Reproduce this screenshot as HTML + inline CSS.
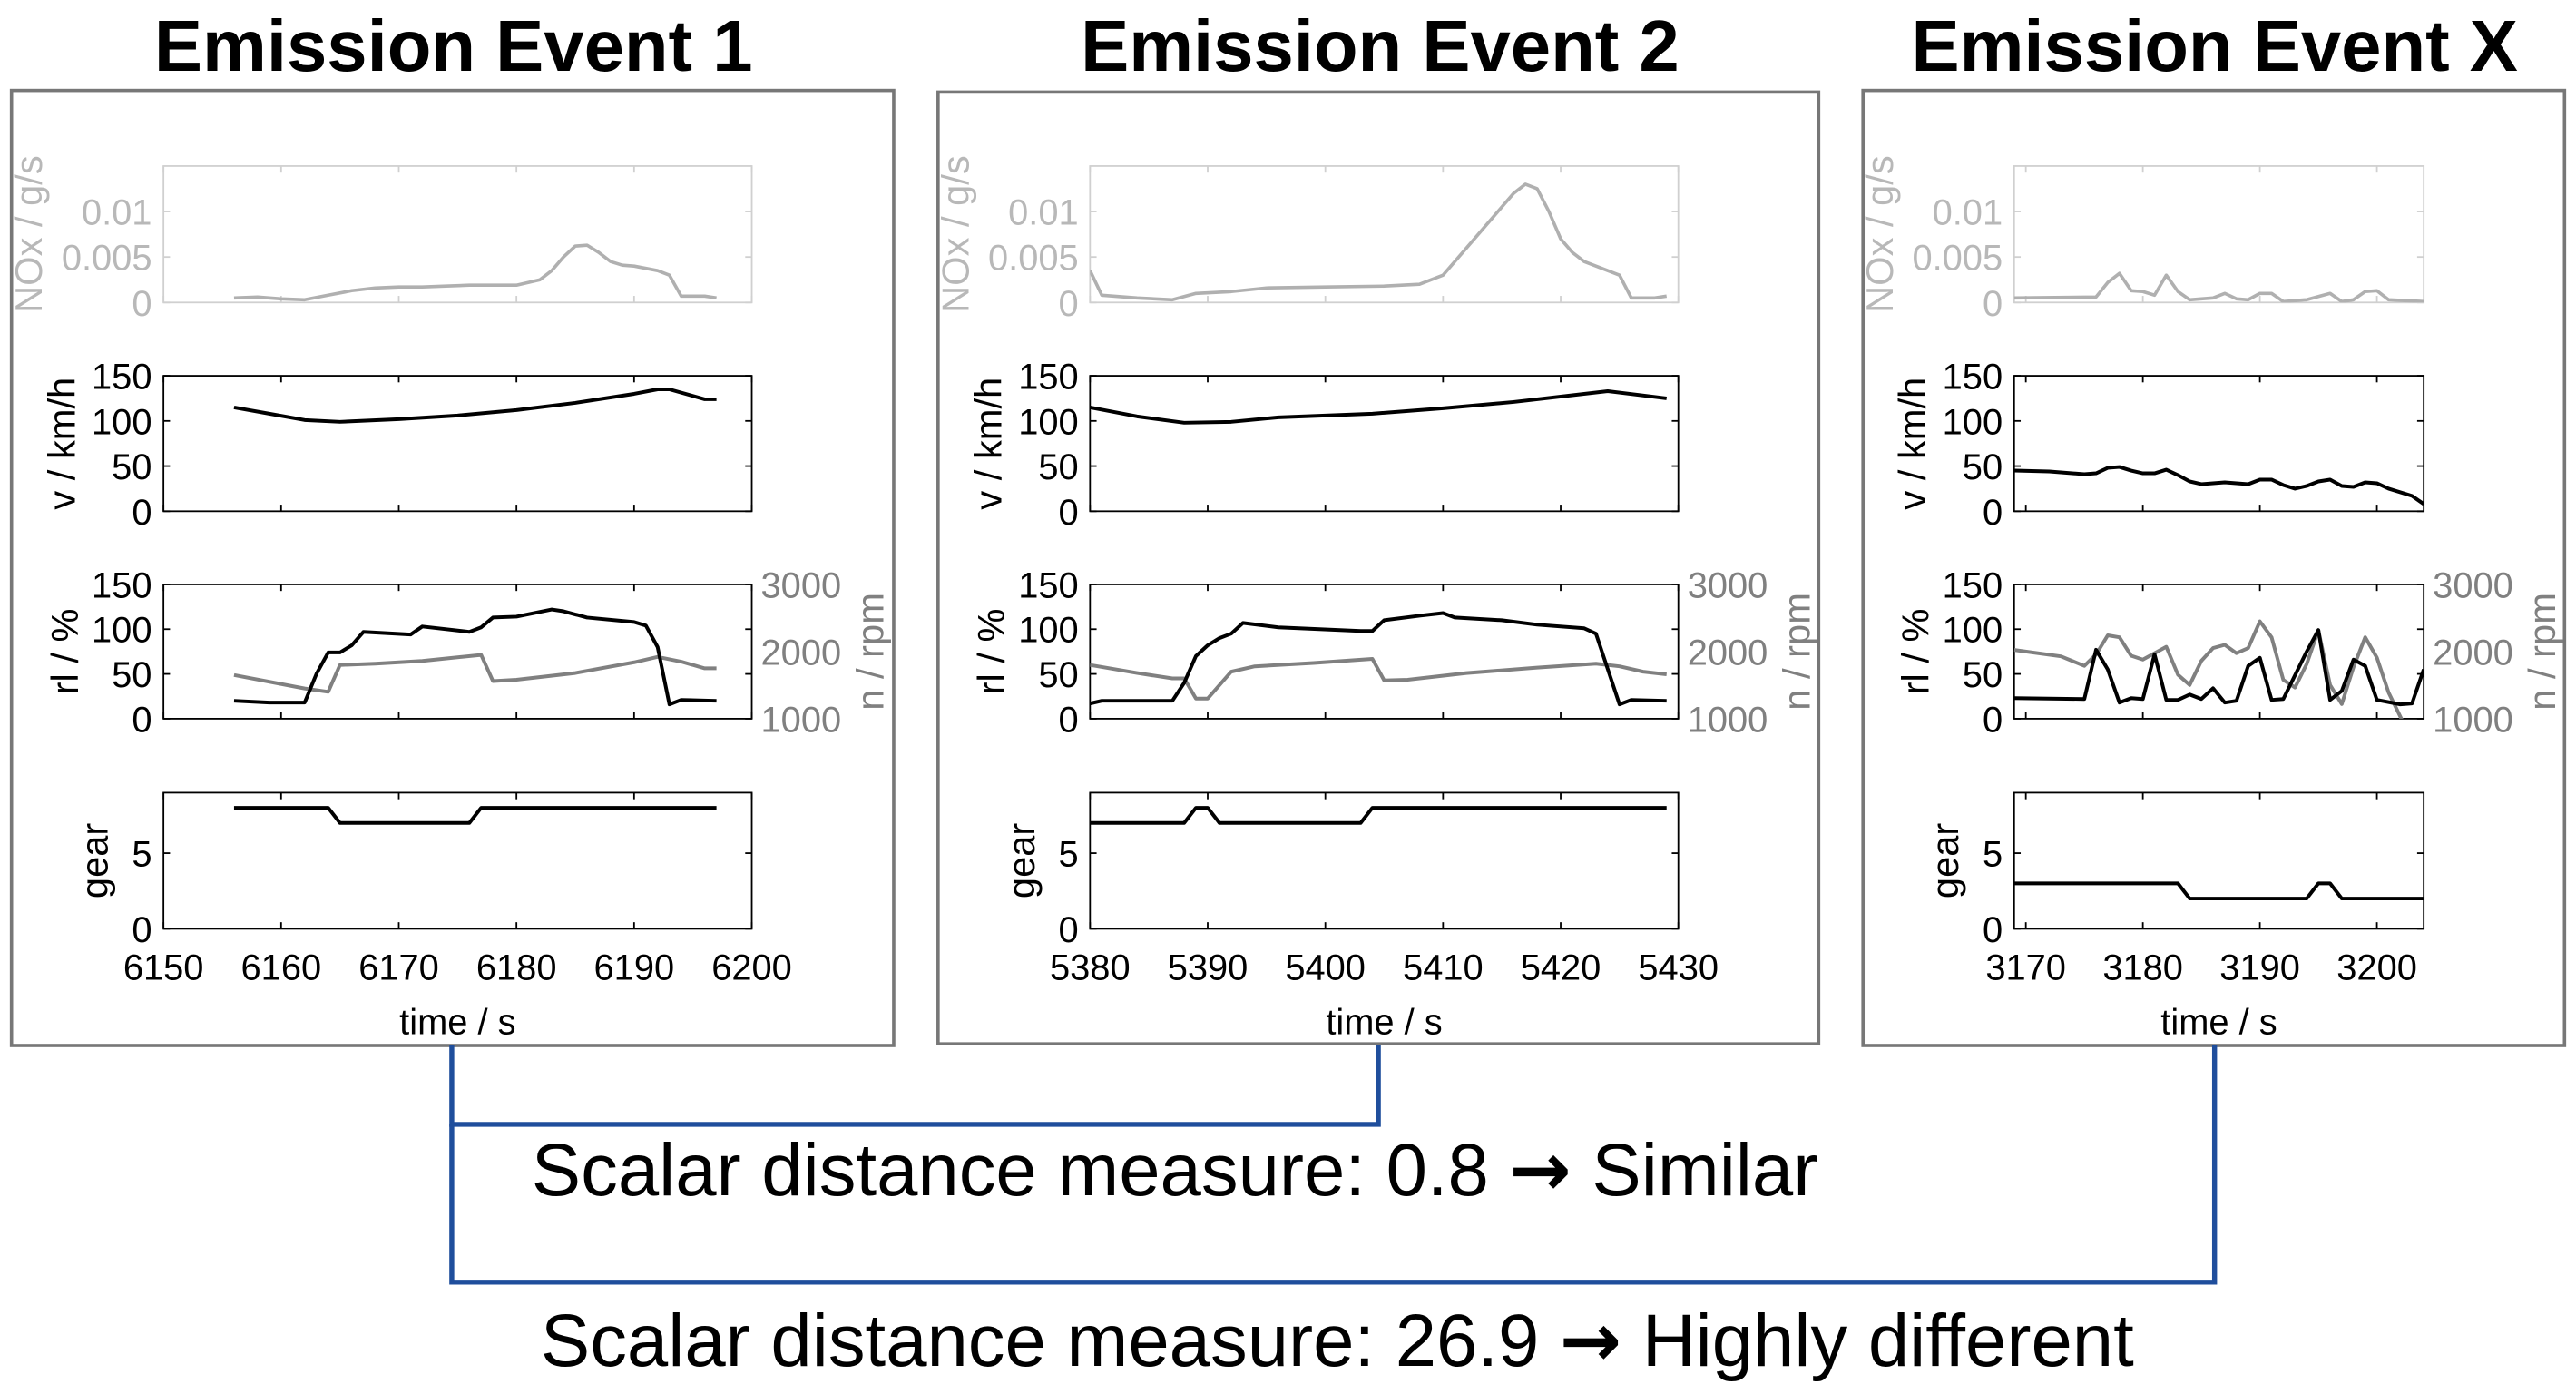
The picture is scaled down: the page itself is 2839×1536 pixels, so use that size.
<!DOCTYPE html>
<html><head><meta charset="utf-8"><style>
html,body{margin:0;padding:0;background:#fff;}
svg{display:block;font-family:"Liberation Sans",Arial,sans-serif;}
</style></head><body>
<svg id="fig" width="2839" height="1536" viewBox="0 0 1568 848" preserveAspectRatio="none" xmlns="http://www.w3.org/2000/svg">
<rect x="0" y="0" width="1568" height="848" fill="#fff"/>
<text x="276" y="43" font-size="44" font-weight="bold" text-anchor="middle">Emission Event 1</text>
<text x="840" y="43" font-size="44" font-weight="bold" text-anchor="middle">Emission Event 2</text>
<text x="1348" y="43" font-size="44" font-weight="bold" text-anchor="middle">Emission Event X</text>
<rect x="7" y="55" width="537" height="581" fill="none" stroke="#777" stroke-width="2"/>
<rect x="571" y="56" width="536" height="579" fill="none" stroke="#777" stroke-width="2"/>
<rect x="1134" y="55" width="427" height="581" fill="none" stroke="#777" stroke-width="2"/>
<polyline points="275,636 275,684 839,684 839,636" fill="none" stroke="#1f4e9c" stroke-width="3"/>
<polyline points="275,684 275,780 1348,780 1348,636" fill="none" stroke="#1f4e9c" stroke-width="3"/>
<text x="715" y="727" font-size="45" text-anchor="middle">Scalar distance measure: 0.8 <tspan font-weight="bold" font-family="DejaVu Sans, sans-serif">→</tspan> Similar</text>
<text x="814" y="831" font-size="45" text-anchor="middle">Scalar distance measure: 26.9 <tspan font-weight="bold" font-family="DejaVu Sans, sans-serif">→</tspan> Highly different</text>
<g id="plots"></g>
</svg>
<script>
// ---- Event 1 data ----
const e1NoxT=[6156,6158,6160,6162,6164,6166,6168,6170,6172,6174,6176,6178,6180,6182,6183,6184,6185,6186,6187,6188,6189,6190,6192,6193,6194,6196,6197];
const e1Nox=[0.0005,0.0006,0.0004,0.0003,0.0008,0.0013,0.0016,0.0017,0.0017,0.0018,0.0019,0.0019,0.0019,0.0025,0.0035,0.005,0.0062,0.0063,0.0055,0.0045,0.0041,0.004,0.0035,0.003,0.0007,0.0007,0.0005];
const e1VT=[6156,6159,6162,6165,6170,6175,6180,6185,6190,6192,6193,6196,6197];
const e1V=[115,108,101,99,102,106,112,120,130,135,135,124,124];
const e1RlT=[6156,6159,6162,6163,6164,6165,6166,6167,6171,6172,6176,6177,6178,6180,6183,6184,6186,6190,6191,6192,6193,6194,6197];
const e1Rl=[20,18,18,50,74,74,82,97,94,103,97,102,113,114,122,120,113,108,104,80,16,21,20];
const e1RpmT=[6156,6162,6164,6165,6168,6172,6177,6178,6180,6185,6190,6192,6194,6196,6197];
const e1Rpm=[1650,1450,1400,1800,1820,1860,1950,1560,1580,1680,1840,1920,1850,1750,1750];
const e1GearT=[6156,6164,6165,6176,6177,6197];
const e1Gear=[8,8,7,7,8,8];
// ---- Event 2 data ----
const e2NoxT=[5380,5381,5384,5387,5389,5392,5395,5400,5405,5408,5410,5412,5414,5416,5417,5418,5419,5420,5421,5422,5424,5425,5426,5428,5429];
const e2Nox=[0.0035,0.0008,0.0005,0.0003,0.001,0.0012,0.0016,0.0017,0.0018,0.002,0.003,0.006,0.009,0.012,0.013,0.0125,0.01,0.007,0.0055,0.0045,0.0035,0.003,0.0005,0.0005,0.0007];
const e2VT=[5380,5384,5388,5392,5396,5404,5410,5416,5424,5429];
const e2V=[115,105,98,99,104,108,114,121,133,125];
const e2RlT=[5380,5381,5387,5388,5389,5390,5391,5392,5393,5396,5403,5404,5405,5408,5410,5411,5415,5418,5422,5423,5425,5426,5429];
const e2Rl=[17,20,20,40,70,82,90,95,107,102,98,98,110,115,118,113,110,105,101,95,16,21,20];
const e2RpmT=[5380,5384,5387,5388,5389,5390,5392,5394,5399,5404,5405,5407,5412,5418,5423,5425,5427,5429];
const e2Rpm=[1800,1680,1600,1600,1300,1300,1700,1780,1830,1890,1570,1580,1680,1760,1820,1780,1700,1660];
const e2GearT=[5380,5388,5389,5390,5391,5403,5404,5429];
const e2Gear=[7,7,8,8,7,7,8,8];
// ---- Event X data ----
const e3NoxT=[3169,3176,3177,3178,3179,3180,3181,3182,3183,3184,3186,3187,3188,3189,3190,3191,3192,3194,3196,3197,3198,3199,3200,3201,3204];
const e3Nox=[0.0005,0.0006,0.0022,0.0032,0.0013,0.0012,0.0008,0.003,0.0012,0.0003,0.0005,0.001,0.0004,0.0003,0.001,0.001,0.0001,0.0003,0.001,0.0001,0.0003,0.0012,0.0013,0.0003,0.0001];
const e3VT=[3169,3172,3175,3176,3177,3178,3179,3180,3181,3182,3183,3184,3185,3187,3189,3190,3191,3192,3193,3194,3195,3196,3197,3198,3199,3200,3201,3203,3204];
const e3V=[45,44,41,42,48,49,45,42,42,46,40,33,30,32,30,35,35,29,25,28,33,35,28,27,32,31,25,17,8];
const e3RlT=[3169,3175,3176,3177,3178,3179,3180,3181,3182,3183,3184,3185,3186,3187,3188,3189,3190,3191,3192,3194,3195,3196,3197,3198,3199,3200,3202,3203,3204];
const e3Rl=[23,22,77,55,18,23,22,72,21,21,27,22,34,18,20,59,68,21,22,75,99,21,31,66,59,21,16,17,55];
const e3RpmT=[3169,3173,3175,3176,3177,3178,3179,3180,3182,3183,3184,3185,3186,3187,3188,3189,3190,3191,3192,3193,3194,3195,3196,3197,3198,3199,3200,3201,3202.2];
const e3Rpm=[2024,1929,1787,1957,2242,2213,1938,1881,2071,1654,1502,1862,2052,2100,1976,2052,2450,2213,1578,1464,1815,2317,1502,1218,1768,2213,1910,1389,960];
const e3GearT=[3169,3183,3184,3194,3195,3196,3197,3204];
const e3Gear=[3,3,2,2,3,3,2,2];
// ---- tick labels ----
const xTicks1=[6150,6160,6170,6180,6190,6200];
const xTicks2=[5380,5390,5400,5410,5420,5430];
const xTicks3=[3170,3180,3190,3200];
const noxTicks=[0,0.005,0.01];
const noxTickLabels=["0","0.005","0.01"];
const vTicks=[0,50,100,150];
const rlTicks=[0,50,100,150];
const rpmTicks=[1000,2000,3000];
const gearTicks=[0,5];

const NS="http://www.w3.org/2000/svg";
const root=document.getElementById('plots');
function mk(tag,attrs,parent,txt){const e=document.createElementNS(NS,tag);for(const k in attrs)e.setAttribute(k,attrs[k]);if(txt!==undefined)e.textContent=txt;(parent||root).appendChild(e);return e;}

const rows={nox:[101,184,0,0.015],v:[228.6,311,0,150],rl:[355.5,437.2,0,150],gear:[482.2,565,0,9]};
const panels=[
 {id:'1',L:99.5,R:457.6,x0:6150,x1:6200,ticks:xTicks1,d:{noxT:e1NoxT,nox:e1Nox,vT:e1VT,v:e1V,rlT:e1RlT,rl:e1Rl,rpmT:e1RpmT,rpm:e1Rpm,gT:e1GearT,g:e1Gear}},
 {id:'2',L:663.5,R:1021.6,x0:5380,x1:5430,ticks:xTicks2,d:{noxT:e2NoxT,nox:e2Nox,vT:e2VT,v:e2V,rlT:e2RlT,rl:e2Rl,rpmT:e2RpmT,rpm:e2Rpm,gT:e2GearT,g:e2Gear}},
 {id:'x',L:1226,R:1475.3,x0:3169,x1:3204,ticks:xTicks3,d:{noxT:e3NoxT,nox:e3Nox,vT:e3VT,v:e3V,rlT:e3RlT,rl:e3Rl,rpmT:e3RpmT,rpm:e3Rpm,gT:e3GearT,g:e3Gear}}
];
let clipN=0;
panels.forEach(p=>{
  const xs=t=>p.L+(t-p.x0)/(p.x1-p.x0)*(p.R-p.L);
  const g=mk('g',{});
  
  
  function axes(key,color,tickColor,name,labels,ticks,label,labelX){
    const [top,bot,y0,y1]=rows[key];
    const ys=v=>bot-(v-y0)/(y1-y0)*(bot-top);
    const ag=mk('g',{},g);
    
    
    const box=mk('rect',{x:p.L,y:top,width:p.R-p.L,height:bot-top,fill:'none',stroke:color,'stroke-width':1},ag);
    
    
    p.ticks.forEach(t=>{const x=xs(t);if(x<p.L-0.5||x>p.R+0.5)return;
      mk('line',{x1:x,x2:x,y1:bot,y2:bot-4,stroke:color,'stroke-width':1},ag);
      mk('line',{x1:x,x2:x,y1:top,y2:top+4,stroke:color,'stroke-width':1},ag);});
    ticks.forEach((v,i)=>{const y=ys(v);
      mk('line',{x1:p.L,x2:p.L+4,y1:y,y2:y,stroke:color,'stroke-width':1},ag);
      mk('line',{x1:p.R,x2:p.R-4,y1:y,y2:y,stroke:color,'stroke-width':1},ag);
      const tl=mk('text',{x:p.L-7,y:y+8,'font-size':22,'text-anchor':'end',fill:tickColor},ag,labels?labels[i]:String(v));
      
      });
    const yl=mk('text',{x:0,y:0,'font-size':23,'text-anchor':'middle',fill:tickColor,transform:`translate(${p.L+labelX},${(top+bot)/2}) rotate(-90)`},ag,label);
    
    
    const cid='c'+(clipN++);
    const cp=mk('clipPath',{id:cid},ag);mk('rect',{x:p.L,y:top,width:p.R-p.L,height:bot-top},cp);
    return {ys,ag,cid,top,bot};
  }
  function line(ax,T,V,ysf,color,w,name){
    const pts=T.map((t,i)=>xs(t).toFixed(2)+','+ysf(V[i]).toFixed(2)).join(' ');
    const pl=mk('polyline',{points:pts,fill:'none',stroke:color,'stroke-width':w,'stroke-linejoin':'round','clip-path':`url(#${ax.cid})`},ax.ag);
    
    
  }
  const a1=axes('nox','#d0d0d0','#b8b8b8','nox',noxTickLabels,noxTicks,'NOx / g/s',-74);
  line(a1,p.d.noxT,p.d.nox,a1.ys,'#b0b0b0',2,'nox-line');
  const a2=axes('v','#000','#000','speed',null,vTicks,'v / km/h',-54);
  line(a2,p.d.vT,p.d.v,a2.ys,'#000',2.2,'speed-line');
  const a3=axes('rl','#000','#000','load',null,rlTicks,'rl / %',-52);
  const [t3,b3]=[rows.rl[0],rows.rl[1]];
  const yr=v=>b3-(v-1000)/2000*(b3-t3);
  rpmTicks.forEach(v=>{const rt=mk('text',{x:p.R+30,y:yr(v)+8,'font-size':22,'text-anchor':'middle',fill:'#808080'},a3.ag,String(v));
    
    });
  const rl=mk('text',{x:0,y:0,'font-size':23,'text-anchor':'middle',fill:'#808080',transform:`translate(${p.R+80},${(t3+b3)/2}) rotate(-90)`},a3.ag,'n / rpm');
  
  
  line(a3,p.d.rpmT,p.d.rpm,yr,'#808080',2.2,'rpm-line');
  line(a3,p.d.rlT,p.d.rl,a3.ys,'#000',2.2,'load-line');
  const a4=axes('gear','#000','#000','gear',null,gearTicks,'gear',-34);
  line(a4,p.d.gT,p.d.g,a4.ys,'#000',2.2,'gear-line');
  p.ticks.forEach(t=>{const xl=mk('text',{x:xs(t),y:596,'font-size':22,'text-anchor':'middle'},g,String(t));
    
    });
  const xt=mk('text',{x:(p.L+p.R)/2,y:629,'font-size':22,'text-anchor':'middle'},g,'time / s');
  
  
});
</script>
</body></html>
